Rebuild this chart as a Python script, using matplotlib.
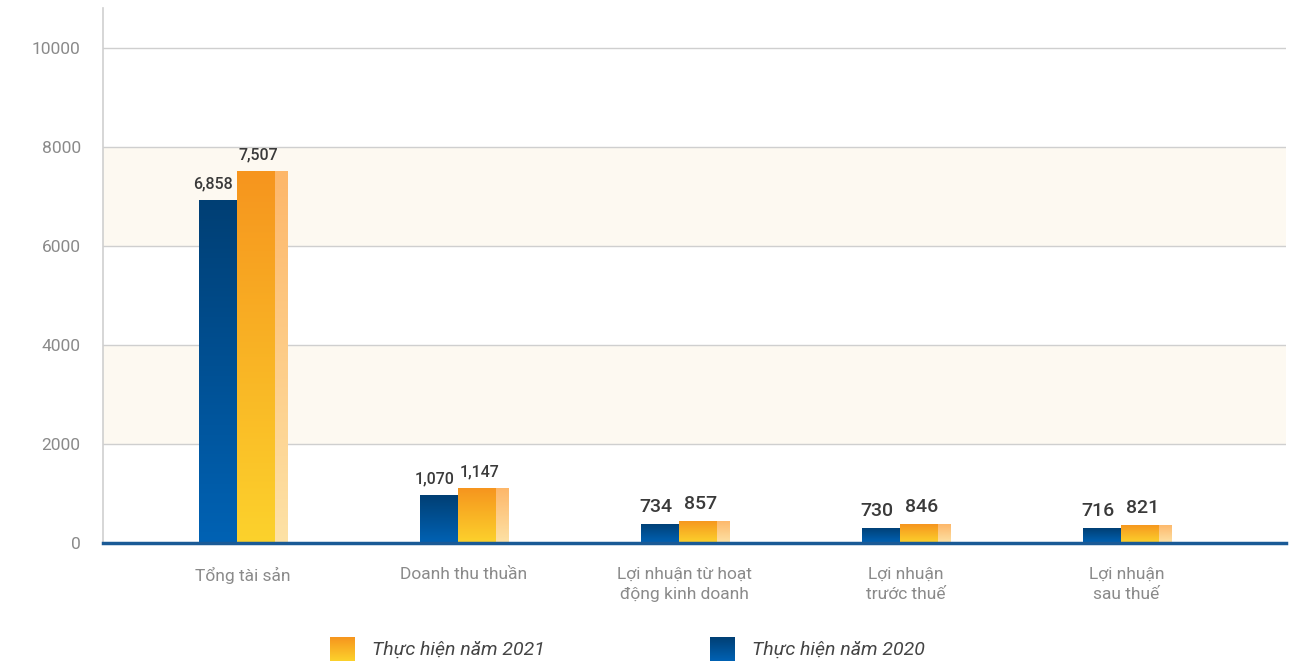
import numpy as np
import matplotlib
matplotlib.use("Agg")
import matplotlib.pyplot as plt
from matplotlib.colors import LinearSegmentedColormap

plt.rcParams['font.family'] = ['Roboto', 'DejaVu Sans']

# data
categories = ["Tổng tài sản", "Doanh thu thuần", "Lợi nhuận từ hoạt\nđộng kinh doanh",
              "Lợi nhuận\ntrước thuế", "Lợi nhuận\nsau thuế"]
labels_2020 = ["6,858", "1,070", "734", "730", "716"]
labels_2021 = ["7,507", "1,147", "857", "846", "821"]
# bar heights as drawn in the picture (small bars are not to scale there)
heights_2020 = [6930, 960, 385, 305, 300]
heights_2021 = [7507, 1110, 445, 380, 365]
yticks = [0, 2000, 4000, 6000, 8000, 10000]
legend_names = ["Thực hiện năm 2021", "Thực hiện năm 2020"]

blue_cm = LinearSegmentedColormap.from_list("b", ["#0062b4", "#003f74"])
orange_cm = LinearSegmentedColormap.from_list("o", ["#fcd22c", "#f6951e"])
pale_cm = LinearSegmentedColormap.from_list("p", ["#fde2a6", "#fdb76a"])

w_main = 0.172
w_pale = 0.055
grad = np.linspace(0, 1, 256).reshape(-1, 1)


def gradient_bars(ax, x, h, w, cmap):
    bars = ax.bar(x, h, width=w, align="edge", facecolor="none", edgecolor="none", zorder=3)
    for b in bars:
        x0, y0 = b.get_x(), b.get_y()
        im = ax.imshow(grad, cmap=cmap, origin="lower", aspect="auto",
                       extent=(x0, x0 + b.get_width(), y0, y0 + b.get_height()), zorder=3)
        im.set_clip_path(b)
    return bars


fig = plt.figure(figsize=(13.1, 6.64), dpi=100)
ax = fig.add_axes([0.0786, 0.1822, 0.9031, 0.8058])

x = np.arange(len(categories))

# background bands + grid
for lo, hi in [(2000, 4000), (6000, 8000)]:
    ax.axhspan(lo, hi, facecolor="#fdf9f1", edgecolor="none", zorder=0)
for t in yticks[1:]:
    ax.axhline(t, color="#cfcfcf", lw=1, zorder=1)

gradient_bars(ax, x - w_main, heights_2020, w_main, blue_cm)
gradient_bars(ax, x, heights_2021, w_main, orange_cm)
gradient_bars(ax, x + w_main, heights_2021, w_pale, pale_cm)

# value labels
for i in range(len(categories)):
    fs = 11.5 if i < 2 else 14
    off = 180 if i < 2 else 170
    ax.text(x[i] - w_main / 2 - 0.02, heights_2020[i] + off, labels_2020[i], ha="center", va="bottom",
            fontsize=fs, fontweight="medium", color="#3a3a3a", zorder=4)
    ax.text(x[i] + w_main / 2 + 0.01, heights_2021[i] + off, labels_2021[i], ha="center", va="bottom",
            fontsize=fs, fontweight="medium", color="#3a3a3a", zorder=4)

ax.set_xlim(-0.606, 4.747)
ax.set_ylim(0, 10808)
ax.set_yticks(yticks)
ax.set_yticklabels([str(t) for t in yticks], fontsize=12.5, color="#8a8a8a")
ax.tick_params(axis="y", length=0, pad=16)
ax.set_xticks(x + 0.025)
ax.set_xticklabels(categories, fontsize=12.5, color="#8a8a8a", linespacing=1.45)
ax.tick_params(axis="x", length=0, pad=17)

for s in ["top", "right"]:
    ax.spines[s].set_visible(False)
ax.spines["left"].set_color("#cfcfcf")
ax.spines["left"].set_linewidth(1.2)
ax.spines["bottom"].set_color("#1a5a96")
ax.spines["bottom"].set_linewidth(2.5)
ax.spines["bottom"].set_zorder(5)

# legend drawn in figure coords
for (lx, tx), name, cm in [((0.252, 0.284), legend_names[0], orange_cm),
                           ((0.542, 0.574), legend_names[1], blue_cm)]:
    lax = fig.add_axes([lx, 0.005, 0.0185, 0.036])
    lax.imshow(grad, cmap=cm, origin="lower", aspect="auto")
    lax.axis("off")
    fig.text(tx, 0.022, name, fontsize=14, style="italic", color="#444444", va="center", ha="left")

fig.savefig("out.png", dpi=100, facecolor="white")
